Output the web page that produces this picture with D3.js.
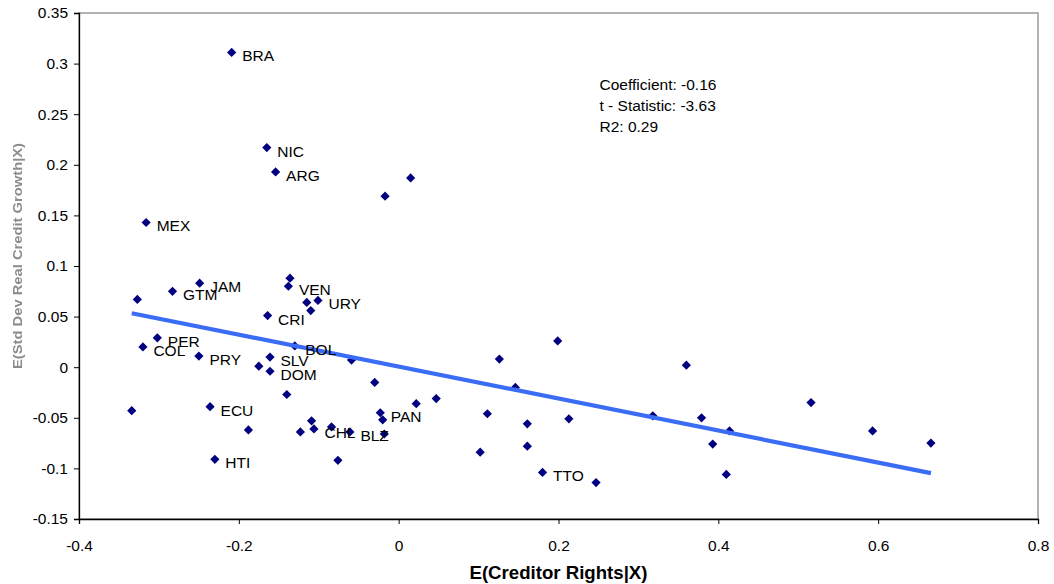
<!DOCTYPE html>
<html>
<head>
<meta charset="utf-8">
<script src="https://cdn.jsdelivr.net/npm/d3@7"></script>
<style>
  html, body { margin: 0; padding: 0; background: #fff; }
  svg { display: block; }
  text { font-family: "Liberation Sans", Arial, sans-serif; }
</style>
</head>
<body>
<svg id="chart" width="1054" height="584"></svg>
<script>
// ---- data ----
const countries = ["BRA","NIC","ARG","MEX","","","","GTM","JAM","","VEN","","URY","","CRI","PER","COL","PRY","BOL","SLV","","DOM","","","","","ECU","","HTI","","","CHL","","BLZ","","PAN","","","","","","","","","","","","","TTO","","","","","","","","","",""];
const xValues = [-0.209,-0.165,-0.154,-0.316,0.015,-0.017,-0.327,-0.283,-0.249,-0.136,-0.138,-0.115,-0.101,-0.110,-0.164,-0.302,-0.320,-0.250,-0.130,-0.161,-0.175,-0.161,-0.059,-0.030,-0.140,-0.334,-0.236,-0.188,-0.230,-0.109,-0.123,-0.106,-0.084,-0.061,-0.076,-0.023,-0.020,-0.018,0.022,0.047,0.111,0.161,0.161,0.102,0.199,0.126,0.146,0.213,0.180,0.247,0.318,0.360,0.379,0.393,0.414,0.410,0.516,0.593,0.666];
const yValues = [0.311,0.217,0.193,0.143,0.187,0.169,0.067,0.075,0.083,0.088,0.080,0.064,0.066,0.056,0.051,0.029,0.020,0.011,0.021,0.010,0.001,-0.004,0.007,-0.015,-0.027,-0.043,-0.039,-0.062,-0.091,-0.053,-0.064,-0.061,-0.059,-0.064,-0.092,-0.045,-0.052,-0.066,-0.036,-0.031,-0.046,-0.056,-0.078,-0.084,0.026,0.008,-0.020,-0.051,-0.104,-0.114,-0.048,0.002,-0.050,-0.076,-0.063,-0.106,-0.035,-0.063,-0.075];
const xTicks = [-0.4,-0.2,0,0.2,0.4,0.6,0.8];
const yTicks = [-0.15,-0.1,-0.05,0,0.05,0.1,0.15,0.2,0.25,0.3,0.35];
const trendSlope = -0.158;
const trendIntercept = 0.0006;
const statLines = ["Coefficient: -0.16","t - Statistic: -3.63","R2: 0.29"];
const xTitle = "E(Creditor Rights|X)";
const yTitle = "E(Std Dev Real Credit Growth|X)";

// ---- layout ----
const margin = {left: 79, top: 13, right: 16, bottom: 65};
const W = 1054, H = 584;
const pw = W - margin.left - margin.right;   // 959
const ph = H - margin.top - margin.bottom;   // 506

const svg = d3.select("#chart");
const defs = svg.append("defs");
defs.append("filter").attr("id","soft").append("feGaussianBlur").attr("stdDeviation",0.7);

const g = svg.append("g").attr("transform", `translate(${margin.left},${margin.top})`);

const x = d3.scaleLinear().domain([-0.4, 0.8]).range([0, pw]);
const y = d3.scaleLinear().domain([-0.15, 0.35]).range([ph, 0]);

// plot area border (gray top/right)
g.append("rect").attr("x",0).attr("y",0).attr("width",pw).attr("height",ph)
  .attr("fill","none").attr("stroke","#9a9a9a").attr("stroke-width",1.5);

// axes
const yAxis = g.append("g")
  .call(d3.axisLeft(y).tickValues(yTicks).tickSize(5).tickPadding(6).tickFormat(d => String(+d.toFixed(2))));
const xAxis = g.append("g").attr("transform", `translate(0,${ph})`)
  .call(d3.axisBottom(x).tickValues(xTicks).tickSize(5).tickPadding(16).tickFormat(d => String(+d.toFixed(2))));
[xAxis, yAxis].forEach(a => {
  a.select(".domain").attr("stroke","#000").attr("stroke-width",1.3);
  a.selectAll(".tick line").attr("stroke","#000");
  a.selectAll("text").attr("font-size","15.5px").attr("fill","#000")
    .attr("font-family",'"Liberation Sans", Arial, sans-serif');
});

// points
const pts = xValues.map((v,i) => ({x: v, y: yValues[i], label: countries[i]}));
const r = 4.6;
g.append("g").selectAll("path").data(pts).join("path")
  .attr("d", d => {
    const cx = x(d.x), cy = y(d.y);
    return `M${cx},${cy - r}L${cx + r},${cy}L${cx},${cy + r}L${cx - r},${cy}Z`;
  })
  .attr("fill","#000080");

// trend line
const xExt = d3.extent(xValues);
const line = d3.line().x(d => x(d)).y(d => y(trendIntercept + trendSlope * d));
g.append("path").datum(xExt).attr("d", line)
  .attr("fill","none").attr("stroke","#3a6cf6").attr("stroke-width",4.2);

// labels
g.append("g").selectAll("text").data(pts.filter(d => d.label)).join("text")
  .attr("x", d => x(d.x) + 10.5)
  .attr("y", d => y(d.y) + 9)
  .attr("font-size","15.5px").attr("fill","#000")
  .text(d => d.label);

// stats text
g.append("g").selectAll("text").data(statLines).join("text")
  .attr("x", x(0.2513))
  .attr("y", (d,i) => 77 + i * 21)
  .attr("font-size","15.5px").attr("fill","#000")
  .text(d => d);

// axis titles
svg.append("text")
  .attr("x", margin.left + pw / 2)
  .attr("y", 579)
  .attr("text-anchor","middle")
  .attr("font-size","18.5px").attr("font-weight","bold")
  .attr("textLength", 178).attr("lengthAdjust","spacingAndGlyphs")
  .text(xTitle);

svg.append("text")
  .attr("transform", "translate(22,256) rotate(-90)")
  .attr("text-anchor","middle")
  .attr("font-size","13px").attr("font-weight","bold")
  .attr("fill","#8c8c8c")
  .attr("textLength", 226).attr("lengthAdjust","spacingAndGlyphs")
  .attr("filter","url(#soft)")
  .text(yTitle);
</script>
</body>
</html>
